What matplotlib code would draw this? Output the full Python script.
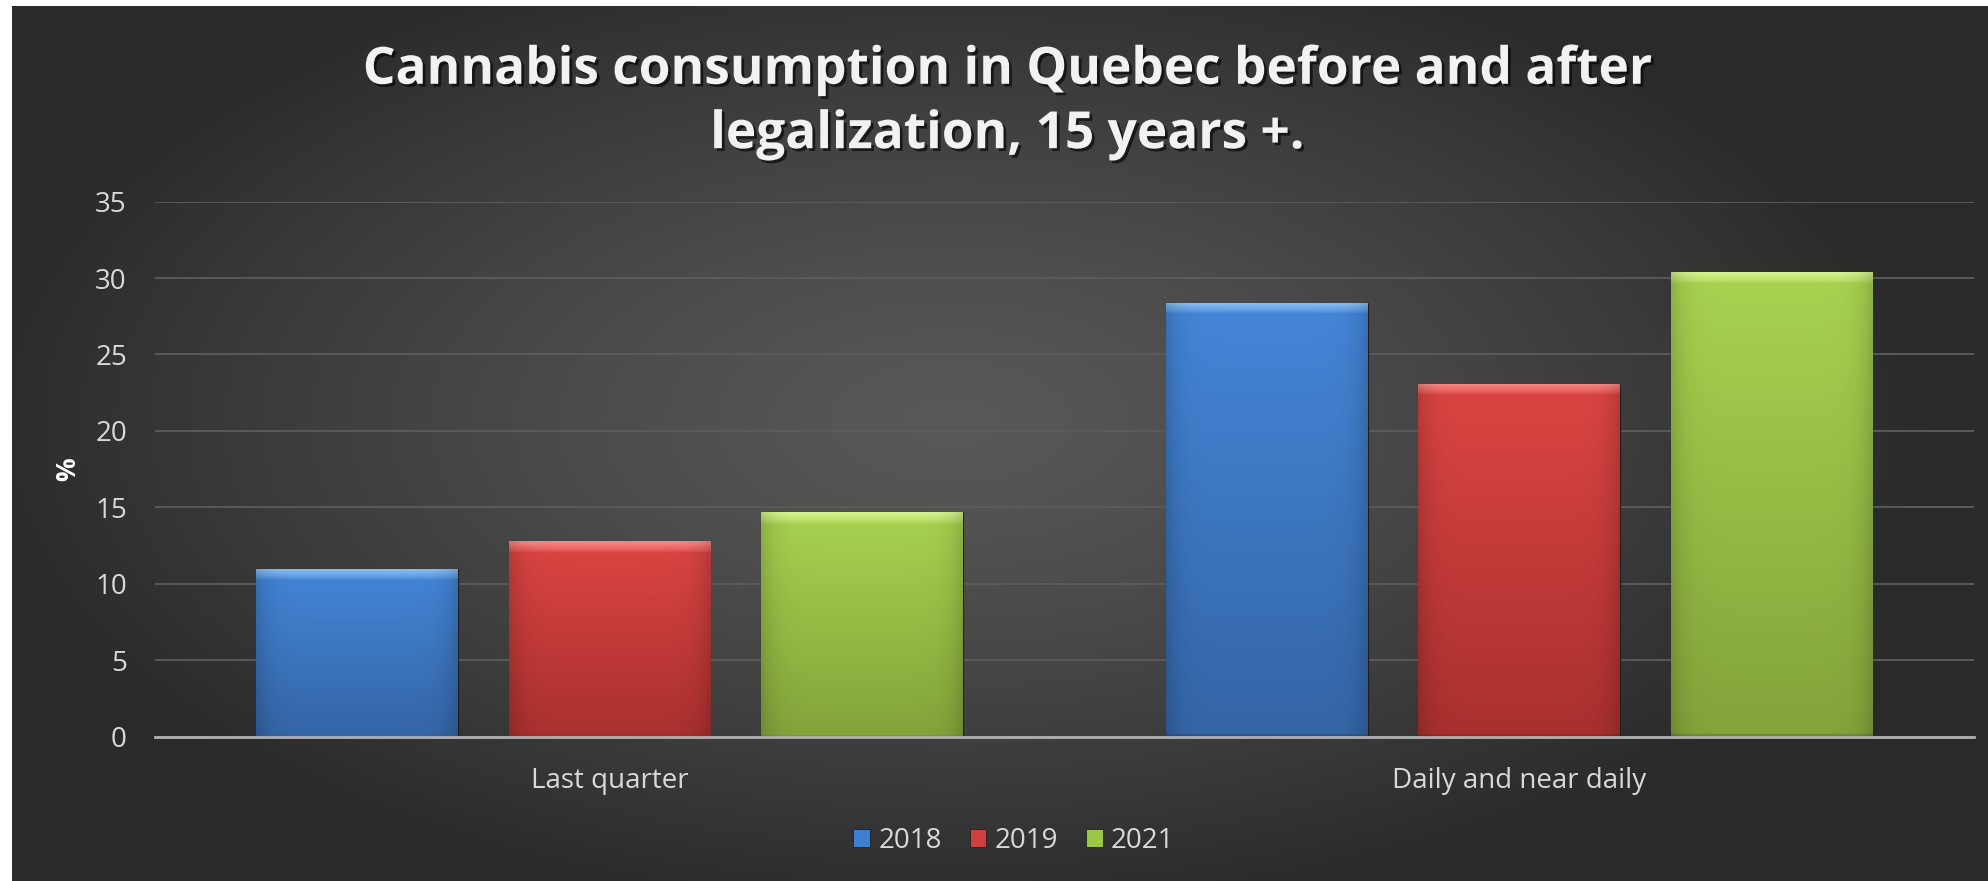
import matplotlib
matplotlib.use("Agg")
import matplotlib.pyplot as plt
import matplotlib.patheffects as pe
from matplotlib.patches import Patch
import numpy as np

# data
categories = ["Last quarter", "Daily and near daily"]
years = ["2018", "2019", "2021"]
vals_2018 = [11.0, 28.4]
vals_2019 = [12.8, 23.1]
vals_2021 = [14.7, 30.4]
y_ticks = [0, 5, 10, 15, 20, 25, 30, 35]
title = "Cannabis consumption in Quebec before and after\nlegalization, 15 years +."

series = [vals_2018, vals_2019, vals_2021]
# (top colour, bottom colour, bevel colour)
bar_cols = [
    ("#4486d8", "#3465a6", "#8cc2f5"),
    ("#dc4543", "#a8302e", "#fa8a86"),
    ("#a8d350", "#84a33a", "#d8f590"),
]
legend_cols = ["#3f7fd0", "#cf3f3d", "#9cc648"]

plt.rcParams["font.family"] = ["Open Sans", "DejaVu Sans"]
txt_col = "#d9d9d9"

W, H = 1988, 881
fig = plt.figure(figsize=(W / 100, H / 100), dpi=100, facecolor="white")

# dark radial background (chart area starts a few px in from left/top)
bg = fig.add_axes([12 / W, 0, 1 - 12 / W, 1 - 6 / H], zorder=-10)
gx, gy = np.meshgrid(np.linspace(-1, 1, 400), np.linspace(-1, 1, 200))
r = np.sqrt(((gx + 0.05) / 1.0) ** 2 + ((gy + 0.05) / 1.15) ** 2)
r = np.clip(r, 0, 1)
shade = 0.345 - 0.18 * r ** 1.3
bg.imshow(np.dstack([shade, shade, shade]), aspect="auto",
          extent=[0, 1, 0, 1], interpolation="bilinear")
bg.set_axis_off()

ax = fig.add_axes([154.7 / W, 144.3 / H, (1974 - 154.7) / W, (736.7 - 201.6) / H])
ax.set_facecolor("none")

x = np.arange(len(categories))
bw = 0.2216
step = 0.2774

px_per_unit = (736.7 - 201.6) / 35.0
bevel_units = 12 / px_per_unit

for i, vals in enumerate(series):
    top_c, bot_c, bev_c = bar_cols[i]
    bars = ax.bar(x + (i - 1) * step, vals, width=bw, color=bot_c,
                  edgecolor="#1e1e1e", linewidth=0.8, zorder=3)
    c_top = np.array(matplotlib.colors.to_rgb(top_c))
    c_bot = np.array(matplotlib.colors.to_rgb(bot_c))
    c_bev = np.array(matplotlib.colors.to_rgb(bev_c))
    for b in bars:
        x0, y0 = b.get_x(), b.get_y()
        w, h = b.get_width(), b.get_height()
        n = 600
        t = np.linspace(0, 1, n)[:, None]  # 0 at top
        col = c_top[None, :] * (1 - t) + c_bot[None, :] * t
        img = np.repeat(col[:, None, :], 60, axis=1).copy()
        # bevel highlight on top band, fading down
        nb = max(2, int(n * bevel_units / h))
        fade = np.linspace(1, 0, nb) ** 0.7
        img[:nb] = fade[:, None, None] * c_bev + (1 - fade[:, None, None]) * img[:nb]
        # slight darkening at sides and bottom edge
        side = np.linspace(0, 1, 60)
        dark = 1 - 0.15 * (np.abs(side - 0.5) * 2) ** 8
        img = img * dark[None, :, None]
        img[-4:] *= 0.85
        im = ax.imshow(img, extent=[x0, x0 + w, y0, y0 + h], aspect="auto",
                       zorder=3.5, interpolation="bilinear")
        im.set_clip_path(b)

ax.set_xlim(-0.5, 1.5)
ax.set_ylim(0, 35)
ax.set_yticks(y_ticks)
ax.set_yticklabels([str(v) for v in y_ticks], fontsize=20, color=txt_col)
ax.set_xticks(x)
ax.set_xticklabels(categories, fontsize=20, color=txt_col)
ax.tick_params(axis="both", length=0)
ax.tick_params(axis="y", pad=20)
ax.tick_params(axis="x", pad=22)
ax.yaxis.grid(True, color="#5c5c5c", linewidth=1.3, zorder=0)
ax.set_axisbelow(True)
for s in ["top", "right", "left"]:
    ax.spines[s].set_visible(False)
ax.spines["bottom"].set_color("#b0b0b0")
ax.spines["bottom"].set_linewidth(2)
ax.spines["bottom"].set_zorder(5)

fig.text(68 / W, 1 - 469 / H, "%", rotation=90, ha="center", va="center",
         fontsize=19, color="white", fontweight="bold")

fig.text(1007 / W, 1 - 103 / H, title, ha="center", va="center",
         fontsize=37, fontweight="bold", color="#f2f2f2", linespacing=1.38,
         path_effects=[pe.withSimplePatchShadow(offset=(2, -2), shadow_rgbFace="black", alpha=0.6)])

handles = [Patch(facecolor=legend_cols[i], edgecolor="#202020", linewidth=0.6)
           for i in range(len(years))]
fig.legend(handles, years, loc="center", bbox_to_anchor=(1014 / W, 40.3 / H),
           ncol=3, frameon=False, fontsize=20, labelcolor=txt_col,
           handlelength=0.6, handleheight=0.6, handletextpad=0.3, columnspacing=1.0)

fig.savefig("out.png", dpi=100, facecolor=fig.get_facecolor())
